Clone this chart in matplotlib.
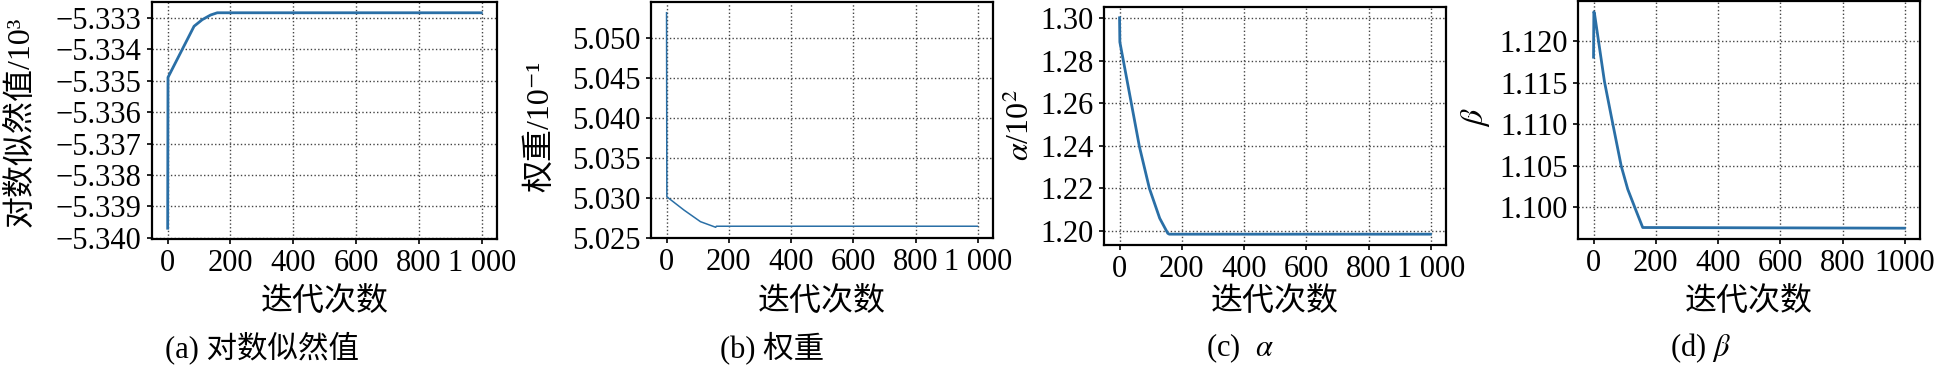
import matplotlib
matplotlib.use("Agg")
import matplotlib.pyplot as plt

plt.rcParams['font.family'] = ['Liberation Serif', 'Noto Sans CJK SC', 'DejaVu Sans']
plt.rcParams['mathtext.fontset'] = 'stix'
plt.rcParams['axes.unicode_minus'] = True

# ---------------- data ----------------
# (a) log-likelihood (x10^3)
iter_a = [0, 1, 84, 110, 137, 158, 999]
loglik = [-5.3397, -5.33489, -5.33326, -5.33305, -5.33290, -5.33283, -5.33283]
# (b) weight (x10^-1)
iter_b = [0, 1, 56, 109, 158, 160, 999]
weight = [5.05315, 5.03014, 5.02848, 5.02703, 5.02633, 5.02646, 5.02646]
# (c) alpha (x10^2)
iter_c = [0, 1, 38, 64, 96, 129, 155, 160, 999]
alpha = [1.3003, 1.2889, 1.2600, 1.2396, 1.2200, 1.2060, 1.1989, 1.1985, 1.1985]
# (d) beta
iter_d = [0, 1, 3, 35, 57, 89, 110, 137, 158, 999]
beta = [1.11805, 1.1235, 1.1233, 1.11513, 1.11094, 1.10495, 1.10216, 1.09956, 1.09757, 1.09749]

xticks = [0, 200, 400, 600, 800, 1000]
xlabels_spaced = ['0', '200', '400', '600', '800', '1 000']
xlabels_plain = ['0', '200', '400', '600', '800', '1000']

yticks_a = [-5.340, -5.339, -5.338, -5.337, -5.336, -5.335, -5.334, -5.333]
ylabels_a = ['\u22125.340', '\u22125.339', '\u22125.338', '\u22125.337',
             '\u22125.336', '\u22125.335', '\u22125.334', '\u22125.333']
yticks_b = [5.025, 5.030, 5.035, 5.040, 5.045, 5.050]
ylabels_b = ['5.025', '5.030', '5.035', '5.040', '5.045', '5.050']
yticks_c = [1.20, 1.22, 1.24, 1.26, 1.28, 1.30]
ylabels_c = ['1.20', '1.22', '1.24', '1.26', '1.28', '1.30']
yticks_d = [1.100, 1.105, 1.110, 1.115, 1.120]
ylabels_d = ['1.100', '1.105', '1.110', '1.115', '1.120']

xlabel = '迭代次数'
ylabel_a = '对数似然值/10\u00b3'
ylabel_b = '权重/10\u207b\u00b9'
ylabel_c = '$\\alpha$/10$^{2}$'
ylabel_d = '$\\beta$'
captions = ['(a) 对数似然值', '(b) 权重', '(c)  $\\alpha$', '(d) $\\beta$']

# ---------------- layout ----------------
W, H = 1942, 367
fig = plt.figure(figsize=(W / 100, H / 100), dpi=100)

def px_rect(l, r, t, b):
    return [l / W, 1 - b / H, (r - l) / W, (b - t) / H]

boxes = [(152, 497, 2, 239), (651, 993, 2, 238), (1104, 1446, 7, 245), (1578, 1920, 1, 239)]
ylab_pos = [(36, 122), (555, 126), (1036, 125), (1492, 117)]
cap_x = [262, 772, 1240, 1700]

series = [(iter_a, loglik, 2.0), (iter_b, weight, 1.1), (iter_c, alpha, 2.0), (iter_d, beta, 2.0)]
ytk = [(yticks_a, ylabels_a), (yticks_b, ylabels_b), (yticks_c, ylabels_c), (yticks_d, ylabels_d)]
ylabs = [ylabel_a, ylabel_b, ylabel_c, ylabel_d]
xlabs = [xlabels_spaced, xlabels_spaced, xlabels_spaced, xlabels_plain]

color = '#2a6fa6'
for i in range(4):
    l, r, t, b = boxes[i]
    ax = fig.add_axes(px_rect(l, r, t, b))
    xs, ys, lw = series[i]
    ax.plot(xs, ys, color=color, lw=lw, solid_joinstyle='round')
    ax.set_xticks(xticks)
    ax.set_xticklabels(xlabs[i])
    ax.set_yticks(ytk[i][0])
    ax.set_yticklabels(ytk[i][1])
    ax.grid(True, linestyle=':', color='#444444', linewidth=1.0)
    for s in ax.spines.values():
        s.set_linewidth(1.6)
        s.set_color('black')
    ax.tick_params(direction='out', length=3.5, width=1.2, labelsize=22, pad=4, colors='black')
    ax.set_xlabel(xlabel, fontsize=23)
    ax.xaxis.set_label_coords((l + r) / 2 / W, 1 - 287 / H, transform=fig.transFigure)
    ax.set_ylabel(ylabs[i], fontsize=23)
    yx, yy = ylab_pos[i]
    ax.yaxis.set_label_coords(yx / W, 1 - yy / H, transform=fig.transFigure)
    fig.text(cap_x[i] / W, 1 - 348 / H, captions[i], ha='center', va='center', fontsize=22)

fig.savefig('out.png', dpi=100)
